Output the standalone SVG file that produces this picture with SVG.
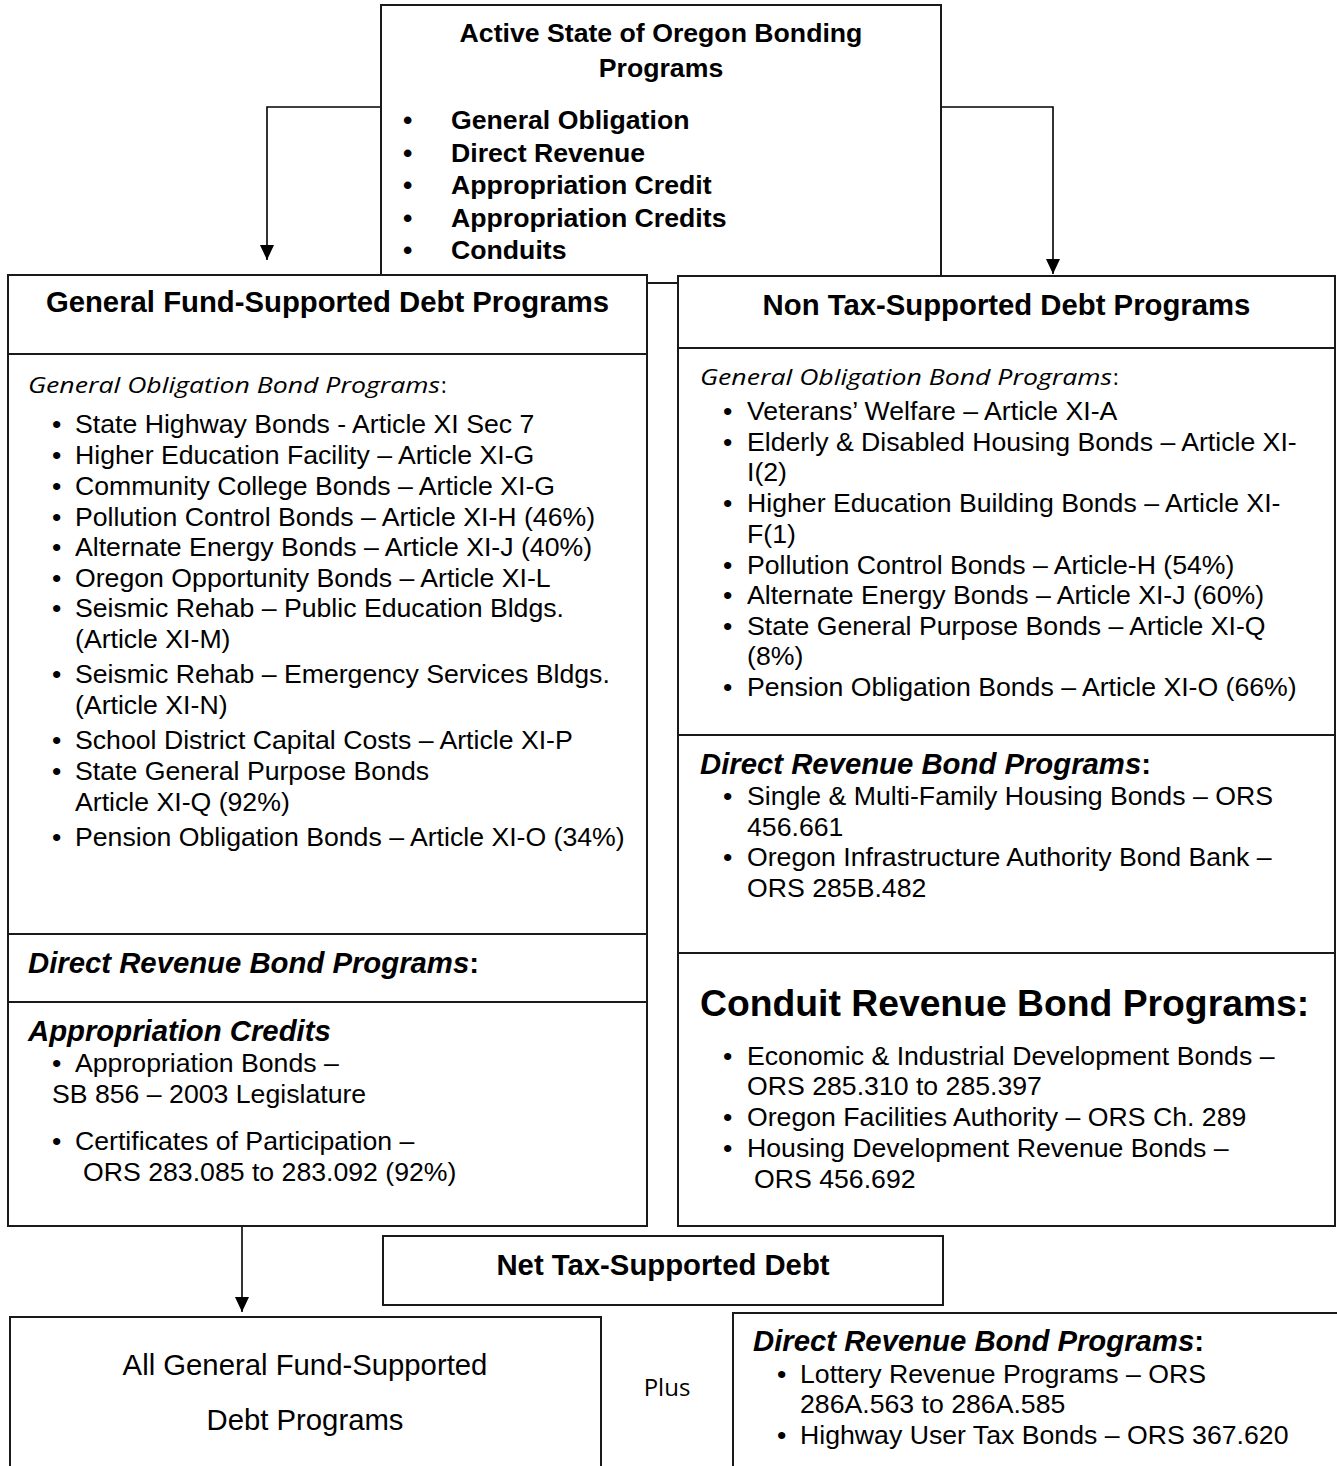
<svg xmlns="http://www.w3.org/2000/svg" width="1337" height="1466" viewBox="0 0 1337 1466">
<defs>
<marker id="arr" markerUnits="userSpaceOnUse" markerWidth="16" markerHeight="16" refX="15" refY="7" orient="auto">
<path d="M0,0 L15,7 L0,14 z" fill="#000"/>
</marker>
<style>
.box{fill:#fff;stroke:#1a1a1a;stroke-width:2}
.conn{fill:none;stroke:#000;stroke-width:1.6}
text{font-family:"Liberation Sans",Arial,sans-serif;fill:#000}
.b{font-size:26.67px}
.bb{font-size:26.67px;font-weight:bold}
.h{font-size:29.3px;font-weight:bold}
.hi{font-size:29.3px;font-weight:bold;font-style:italic}
.hr{font-size:29.3px}
.big{font-size:37.3px;font-weight:bold}
.gi{font-family:"Open Sans","Noto Sans",sans-serif;font-size:21.3px;font-style:italic}
.gc{font-family:"Open Sans","Noto Sans",sans-serif;font-size:21.3px}
.pl{font-family:"Open Sans","Noto Sans",sans-serif;font-size:24px}
.c{text-anchor:middle}
</style>
</defs>
<rect width="1337" height="1466" fill="#fff"/>

<g id="connectors">
<polyline class="conn" points="381,107 267,107 267,260" marker-end="url(#arr)"/>
<polyline class="conn" points="941,107 1053,107 1053,274" marker-end="url(#arr)"/>
<line class="conn" x1="242" y1="1226" x2="242" y2="1312" marker-end="url(#arr)"/>
</g>

<g id="top">
<rect class="box" x="381" y="5" width="560" height="278"/>
<text class="bb c" x="661" y="42">Active State of Oregon Bonding</text>
<text class="bb c" x="661" y="77">Programs</text>
<text class="bb" x="403" y="129">•</text><text class="bb" x="451" y="129">General Obligation</text>
<text class="bb" x="403" y="162">•</text><text class="bb" x="451" y="162">Direct Revenue</text>
<text class="bb" x="403" y="194">•</text><text class="bb" x="451" y="194">Appropriation Credit</text>
<text class="bb" x="403" y="227">•</text><text class="bb" x="451" y="227">Appropriation Credits</text>
<text class="bb" x="403" y="259">•</text><text class="bb" x="451" y="259">Conduits</text>
</g>

<g id="general-fund">
<rect class="box" x="8" y="275" width="639" height="79"/>
<text class="h c" x="327.5" y="312">General Fund-Supported Debt Programs</text>
<rect class="box" x="8" y="354" width="639" height="580"/>
<text class="gi" x="28" y="393" textLength="412" lengthAdjust="spacingAndGlyphs">General Obligation Bond Programs</text><text class="gc" x="441" y="393">:</text>
<g class="b">
<text x="52" y="433">•</text><text x="75" y="433">State Highway Bonds - Article XI Sec 7</text>
<text x="52" y="464">•</text><text x="75" y="464">Higher Education Facility – Article XI-G</text>
<text x="52" y="495">•</text><text x="75" y="495">Community College Bonds – Article XI-G</text>
<text x="52" y="526">•</text><text x="75" y="526">Pollution Control Bonds – Article XI-H (46%)</text>
<text x="52" y="556">•</text><text x="75" y="556">Alternate Energy Bonds – Article XI-J (40%)</text>
<text x="52" y="587">•</text><text x="75" y="587">Oregon Opportunity Bonds – Article XI-L</text>
<text x="52" y="617">•</text><text x="75" y="617">Seismic Rehab – Public Education Bldgs.</text>
<text x="75" y="648">(Article XI-M)</text>
<text x="52" y="683">•</text><text x="75" y="683">Seismic Rehab – Emergency Services Bldgs.</text>
<text x="75" y="714">(Article XI-N)</text>
<text x="52" y="749">•</text><text x="75" y="749">School District Capital Costs – Article XI-P</text>
<text x="52" y="780">•</text><text x="75" y="780">State General Purpose Bonds</text>
<text x="75" y="811">Article XI-Q (92%)</text>
<text x="52" y="846">•</text><text x="75" y="846">Pension Obligation Bonds – Article XI-O (34%)</text>
</g>
<rect class="box" x="8" y="934" width="639" height="68"/>
<text class="hi" x="28" y="973">Direct Revenue Bond Programs<tspan font-style="normal">:</tspan></text>
<rect class="box" x="8" y="1002" width="639" height="224"/>
<text class="hi" x="28" y="1041">Appropriation Credits</text>
<g class="b">
<text x="52" y="1072">•</text><text x="75" y="1072">Appropriation Bonds –</text>
<text x="52" y="1103">SB 856 – 2003 Legislature</text>
<text x="52" y="1150">•</text><text x="75" y="1150">Certificates of Participation –</text>
<text x="83" y="1181">ORS 283.085 to 283.092 (92%)</text>
</g>
</g>

<g id="non-tax">
<rect class="box" x="678" y="276" width="657" height="72"/>
<text class="h c" x="1006.5" y="315">Non Tax-Supported Debt Programs</text>
<rect class="box" x="678" y="348" width="657" height="387"/>
<text class="gi" x="700" y="385" textLength="412" lengthAdjust="spacingAndGlyphs">General Obligation Bond Programs</text><text class="gc" x="1113" y="385">:</text>
<g class="b">
<text x="723" y="420">•</text><text x="747" y="420">Veterans’ Welfare – Article XI-A</text>
<text x="723" y="451">•</text><text x="747" y="451">Elderly &amp; Disabled Housing Bonds – Article XI-</text>
<text x="747" y="481">I(2)</text>
<text x="723" y="512">•</text><text x="747" y="512">Higher Education Building Bonds – Article XI-</text>
<text x="747" y="543">F(1)</text>
<text x="723" y="574">•</text><text x="747" y="574">Pollution Control Bonds – Article-H (54%)</text>
<text x="723" y="604">•</text><text x="747" y="604">Alternate Energy Bonds – Article XI-J (60%)</text>
<text x="723" y="635">•</text><text x="747" y="635">State General Purpose Bonds – Article XI-Q</text>
<text x="747" y="665">(8%)</text>
<text x="723" y="696">•</text><text x="747" y="696">Pension Obligation Bonds – Article XI-O (66%)</text>
</g>
<rect class="box" x="678" y="735" width="657" height="218"/>
<text class="hi" x="700" y="774">Direct Revenue Bond Programs<tspan font-style="normal">:</tspan></text>
<g class="b">
<text x="723" y="805">•</text><text x="747" y="805">Single &amp; Multi-Family Housing Bonds – ORS</text>
<text x="747" y="836">456.661</text>
<text x="723" y="866">•</text><text x="747" y="866">Oregon Infrastructure Authority Bond Bank –</text>
<text x="747" y="897">ORS 285B.482</text>
</g>
<rect class="box" x="678" y="953" width="657" height="273"/>
<text class="big" x="700" y="1016">Conduit Revenue Bond Programs:</text>
<g class="b">
<text x="723" y="1065">•</text><text x="747" y="1065">Economic &amp; Industrial Development Bonds –</text>
<text x="747" y="1095">ORS 285.310 to 285.397</text>
<text x="723" y="1126">•</text><text x="747" y="1126">Oregon Facilities Authority – ORS Ch. 289</text>
<text x="723" y="1157">•</text><text x="747" y="1157">Housing Development Revenue Bonds –</text>
<text x="754" y="1188">ORS 456.692</text>
</g>
</g>

<g id="net-tax">
<rect class="box" x="383" y="1236" width="560" height="69"/>
<text class="h c" x="663" y="1275">Net Tax-Supported Debt</text>
</g>

<g id="all-general">
<rect class="box" x="10" y="1317" width="591" height="160"/>
<text class="hr c" x="305" y="1375">All General Fund-Supported</text>
<text class="hr c" x="305" y="1430">Debt Programs</text>
</g>

<g id="plus">
<text class="pl c" x="667" y="1396">Plus</text>
</g>

<g id="direct-revenue-tax">
<rect class="box" x="733" y="1313" width="610" height="165"/>
<text class="hi" x="753" y="1351">Direct Revenue Bond Programs<tspan font-style="normal">:</tspan></text>
<g class="b">
<text x="777" y="1383">•</text><text x="800" y="1383">Lottery Revenue Programs – ORS</text>
<text x="800" y="1413">286A.563 to 286A.585</text>
<text x="777" y="1444">•</text><text x="800" y="1444">Highway User Tax Bonds – ORS 367.620</text>
</g>
</g>
</svg>
